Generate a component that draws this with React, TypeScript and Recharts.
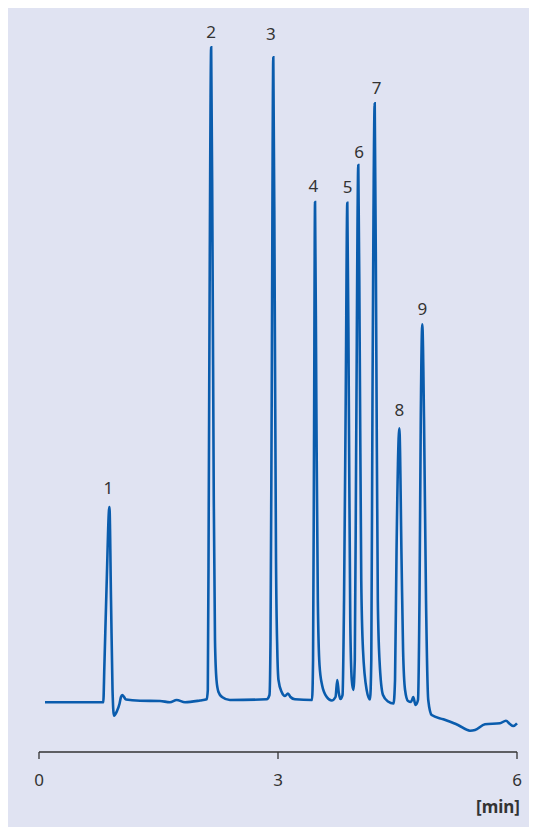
import { ComposedChart, Line, Scatter, XAxis, YAxis } from "recharts";

// retention time [min] and detector signal (arbitrary units)
const times = [
  0.075, 0.807, 0.82, 0.847, 0.884, 0.904, 0.923, 0.941, 0.979, 1.01, 1.029, 1.046, 1.092, 1.268, 1.519,
  1.644, 1.728, 1.833, 2.021, 2.105, 2.119, 2.131, 2.144, 2.161, 2.178, 2.194, 2.209, 2.228, 2.253, 2.297,
  2.397, 2.858, 2.893, 2.906, 2.921, 2.941, 2.959, 2.975, 2.991, 3.006, 3.046, 3.088, 3.125, 3.157, 3.213,
  3.427, 3.44, 3.452, 3.465, 3.481, 3.5, 3.521, 3.553, 3.612, 3.674, 3.722, 3.744, 3.763, 3.785, 3.81,
  3.829, 3.85, 3.87, 3.889, 3.907, 3.926, 3.945, 3.964, 3.981, 4.008, 4.026, 4.045, 4.067, 4.113, 4.155,
  4.171, 4.186, 4.214, 4.234, 4.253, 4.274, 4.318, 4.381, 4.45, 4.469, 4.488, 4.523, 4.551, 4.57, 4.595,
  4.632, 4.67, 4.698, 4.726, 4.757, 4.776, 4.792, 4.811, 4.833, 4.858, 4.886, 4.929, 5.075, 5.259, 5.41,
  5.473, 5.598, 5.786, 5.861, 5.911, 5.953, 6.0,
];

const signal = [
  4.97, 4.97, 8.4, 16.2, 24.5, 15.2, 6.2, 3.63, 4.1, 4.8, 5.5, 5.7, 5.25, 5.13, 5.1,
  4.97, 5.2, 4.97, 5.15, 5.27, 6.2, 25.2, 50.2, 70.47, 50.2, 25.2, 11.2, 7.2, 6.0, 5.5,
  5.2, 5.27, 5.7, 11.2, 35.2, 69.47, 45.2, 19.2, 10.2, 7.2, 6.0, 5.6, 5.85, 5.5, 5.27,
  5.2, 9.2, 30.2, 55.0, 35.2, 15.2, 8.7, 6.7, 5.5, 5.15, 5.5, 7.2, 5.9, 5.3, 5.7,
  15.2, 35.2, 54.93, 35.2, 13.2, 7.2, 6.2, 9.2, 30.2, 58.7, 40.2, 17.2, 10.2, 6.2, 5.25,
  9.2, 35.2, 64.87, 40.2, 15.2, 9.2, 5.7, 5.05, 4.85, 7.2, 20.2, 32.37, 19.2, 10.2, 6.2,
  5.1, 5.0, 5.5, 4.7, 5.2, 15.2, 33.2, 42.77, 33.2, 15.2, 5.2, 3.7, 3.27, 2.7, 2.13,
  2.2, 2.77, 2.87, 3.13, 2.8, 2.6, 2.87,
];

// peak numbers and where their labels sit (time, signal level)
const peakNames = ["1", "2", "3", "4", "5", "6", "7", "8", "9"];
const peakLabelTimes = [0.87, 2.159, 2.912, 3.443, 3.875, 4.017, 4.239, 4.523, 4.811];
const peakLabelLevels = [26.37, 72.03, 71.8, 56.6, 56.47, 60.03, 66.37, 34.2, 44.27];

const xTicks = [0, 3, 6];

const trace = times.map((t, i) => ({ t, v: signal[i] }));
const peakLabels = peakNames.map((name, i) => ({ name, t: peakLabelTimes[i], v: peakLabelLevels[i] }));

const FONT = "'Noto Sans', 'DejaVu Sans', sans-serif";
const TEXT = "#333333";

function PeakLabel(props: any) {
  const { cx, cy, payload } = props;
  return (
    <text x={cx} y={cy} dy="0.36em" textAnchor="middle" fontFamily={FONT} fontSize={17} fill={TEXT}>
      {payload.name}
    </text>
  );
}

function UnitLabel(props: any) {
  const { viewBox } = props;
  return (
    <text
      x={viewBox.x + viewBox.width + 3}
      y={viewBox.y + 61}
      textAnchor="end"
      fontFamily={FONT}
      fontSize={17}
      fontWeight="bold"
      fill={TEXT}
    >
      [min]
    </text>
  );
}

export default function App() {
  return (
    <div style={{ width: 529, height: 819, background: "#e0e3f2" }}>
      <ComposedChart width={529} height={819} data={trace} margin={{ top: 12, right: 20, bottom: 0, left: 31 }}>
        <XAxis
          type="number"
          dataKey="t"
          domain={[0, 6]}
          ticks={xTicks}
          height={75}
          stroke={TEXT}
          strokeWidth={1.3}
          tickSize={7}
          tickMargin={15}
          tick={{ fill: TEXT, fontSize: 17, fontFamily: FONT }}
          label={<UnitLabel />}
        />
        <YAxis hide type="number" domain={[0, 73.2]} />
        <Line
          type="monotoneX"
          dataKey="v"
          stroke="#0a5cad"
          strokeWidth={2.6}
          dot={false}
          isAnimationActive={false}
        />
        <Scatter data={peakLabels} dataKey="v" shape={<PeakLabel />} isAnimationActive={false} />
      </ComposedChart>
    </div>
  );
}
